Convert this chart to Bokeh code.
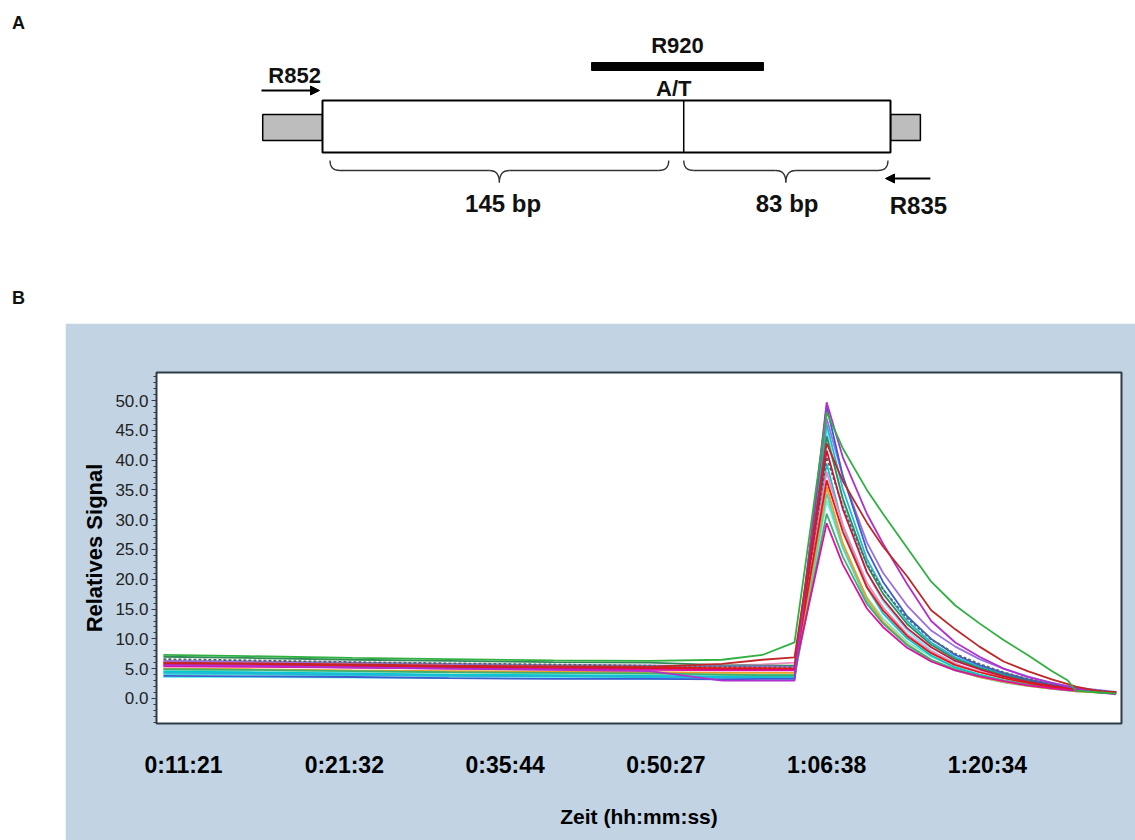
from bokeh.plotting import figure
from bokeh.models import (Range1d, FixedTicker, PrintfTickFormatter, Arrow,
                          NormalHead, Spacer)
from bokeh.layouts import column, row
from bokeh.embed import file_html
from bokeh.resources import INLINE
from bokeh.core.properties import value

FONT = "Liberation Sans"

# ---------------- Panel A: amplicon schematic (positions in bp) ----------------
segment_bp = [145, 83]            # amplicon parts left / right of the SNP
flank_bp = [24, 12]               # grey flanks outside the primers
probe_bp = [108, 177]             # R920 probe span
snp_label = "A/T"
probe_label = "R920"
fwd_primer = "R852"
rev_primer = "R835"
segment_labels = ["145 bp", "83 bp"]

# ---------------- Panel B: melting / signal curves ----------------
tick_pos = [0, 20, 40, 60, 80, 100]
tick_labels = ["0:11:21", "0:21:32", "0:35:44", "0:50:27", "1:06:38", "1:20:34"]
y_ticks = [0, 5, 10, 15, 20, 25, 30, 35, 40, 45, 50]

x_pts = [-2.5, 8, 21, 33, 46, 58, 67, 72, 76,
         80, 82, 85, 87, 90, 93, 96, 99, 102, 105, 108, 110, 111, 114, 116]

s_green = [7.3, 7.1, 6.8, 6.6, 6.4, 6.3, 6.5, 7.3, 9.4, 48.0, 42.0, 35.0, 31.0, 25.3, 19.6, 15.6, 12.6, 9.8, 7.3, 4.6, 3.0, 1.3, 1.0, 0.8]
s_red = [6.0, 5.9, 5.7, 5.5, 5.4, 5.3, 5.8, 6.5, 6.9, 42.8, 36.5, 29.5, 25.5, 20.5, 14.8, 11.6, 8.7, 6.2, 4.6, 3.2, 2.4, 2.0, 1.2, 1.0]
s_violet = [5.6, 5.5, 5.2, 5.0, 4.8, 4.6, 3.0, 3.0, 3.0, 49.7, 40.5, 31.0, 26.0, 19.2, 13.0, 9.4, 7.0, 5.0, 3.6, 2.6, 2.0, 1.7, 1.0, 0.7]
s_blue = [3.8, 3.7, 3.6, 3.4, 3.3, 3.3, 3.2, 3.3, 3.3, 49.0, 37.4, 24.9, 19.6, 13.8, 10.0, 7.3, 5.6, 4.3, 3.2, 2.3, 1.9, 1.7, 1.2, 1.0]
s_lilac = [6.3, 6.2, 6.0, 5.8, 5.6, 5.5, 5.4, 5.4, 5.3, 47.0, 37.3, 26.2, 21.1, 15.6, 11.4, 8.7, 6.6, 5.0, 3.7, 2.6, 2.1, 1.8, 1.4, 1.1]
s_cyan = [4.3, 4.2, 4.0, 3.8, 3.7, 3.6, 3.5, 3.5, 3.5, 46.0, 35.2, 23.4, 18.4, 13.0, 9.4, 6.9, 5.3, 4.1, 3.1, 2.2, 1.8, 1.6, 1.2, 1.0]
s_lightcyan = [3.6, 3.6, 3.5, 3.4, 3.4, 3.3, 3.3, 3.3, 3.3, 45.0, 33.1, 21.1, 16.3, 11.4, 8.1, 5.9, 4.4, 3.4, 2.5, 1.9, 1.5, 1.3, 1.1, 0.9]
s_darkgreen = [7.0, 6.8, 6.5, 6.3, 6.1, 6.0, 5.6, 5.5, 5.5, 44.0, 33.6, 22.4, 17.6, 12.5, 9.0, 6.6, 5.1, 3.9, 3.0, 2.2, 1.8, 1.6, 1.2, 1.0]
s_crimson = [5.7, 5.6, 5.4, 5.2, 5.1, 5.0, 4.9, 4.9, 4.9, 41.6, 31.8, 21.2, 16.7, 11.8, 8.6, 6.3, 4.9, 3.7, 2.8, 2.1, 1.7, 1.5, 1.2, 1.0]
s_grey = [6.6, 6.4, 6.1, 5.9, 5.7, 5.5, 5.3, 5.2, 5.2, 40.5, 32.2, 22.6, 18.3, 13.5, 9.9, 7.5, 5.8, 4.4, 3.3, 2.4, 1.9, 1.7, 1.3, 1.0]
s_turq = [4.5, 4.4, 4.2, 4.0, 3.9, 3.8, 3.7, 3.7, 3.6, 39.4, 29.0, 18.6, 14.3, 10.1, 7.2, 5.2, 4.0, 3.0, 2.3, 1.7, 1.4, 1.3, 1.0, 0.9]
s_pink = [6.2, 6.1, 5.9, 5.7, 5.6, 5.5, 5.5, 5.7, 6.0, 38.0, 29.1, 19.4, 15.3, 10.8, 7.9, 5.8, 4.5, 3.5, 2.7, 2.0, 1.6, 1.5, 1.1, 1.0]
s_red2 = [5.9, 5.8, 5.6, 5.4, 5.3, 5.2, 5.1, 5.1, 5.0, 36.6, 28.0, 18.7, 14.8, 10.5, 7.6, 5.6, 4.4, 3.4, 2.6, 1.9, 1.6, 1.4, 1.1, 1.0]
s_orange = [5.0, 4.9, 4.7, 4.6, 4.5, 4.4, 4.3, 4.3, 4.3, 35.5, 26.1, 16.8, 12.9, 9.1, 6.5, 4.8, 3.6, 2.8, 2.1, 1.6, 1.4, 1.2, 1.0, 0.9]
s_cyan3 = [4.1, 4.0, 3.9, 3.8, 3.7, 3.6, 3.5, 3.4, 3.4, 34.4, 25.3, 16.3, 12.6, 8.9, 6.3, 4.7, 3.6, 2.7, 2.1, 1.6, 1.3, 1.2, 1.0, 0.9]
s_aqua = [4.8, 4.7, 4.5, 4.4, 4.2, 4.1, 4.0, 4.0, 4.0, 33.2, 25.4, 17.0, 13.4, 9.5, 7.0, 5.2, 4.0, 3.1, 2.4, 1.8, 1.5, 1.4, 1.1, 1.0]
s_green2 = [4.9, 4.8, 4.6, 4.4, 4.3, 4.2, 4.0, 3.9, 3.9, 31.0, 23.8, 15.9, 12.6, 9.0, 6.5, 4.9, 3.8, 3.0, 2.3, 1.8, 1.5, 1.3, 1.1, 1.0]
s_magenta = [5.4, 5.3, 5.2, 5.0, 4.9, 4.8, 4.7, 4.7, 4.7, 29.4, 22.5, 15.1, 12.0, 8.5, 6.2, 4.7, 3.7, 2.9, 2.2, 1.7, 1.4, 1.3, 1.1, 0.9]

series = [s_aqua, s_cyan3, s_lightcyan, s_turq, s_cyan, s_orange, s_pink, s_green2,
          s_darkgreen, s_lilac, s_blue, s_grey, s_crimson, s_red2, s_magenta,
          s_violet, s_red, s_green]
colors = ["#7fe8c8", "#40d8d0", "#70f0f0", "#00c8d0", "#20b8d8", "#f0a020", "#f088c0", "#40b070",
          "#2e8b57", "#9a70e0", "#3a5cd0", "#4f6a64", "#d01040", "#e01818", "#e010a0",
          "#b030d0", "#c02828", "#30b040"]
dashes = ["solid"] * 11 + ["3 2"] + ["solid"] * 6

# ================= Figure A =================
px_per_bp = 2.4912
amp_start_px = 322
W = 1135
HA = 323
x0 = (0 - amp_start_px) / px_per_bp
x1 = (W - amp_start_px) / px_per_bp
pa = figure(width=W, height=HA, x_range=Range1d(x0, x1), y_range=Range1d(HA, 0),
            toolbar_location=None, output_backend="svg", min_border=0,
            x_axis_location=None, y_axis_location=None, outline_line_color=None)
pa.grid.visible = False

amp_len = sum(segment_bp)
snp = segment_bp[0]
# grey flanks
pa.quad(left=[-flank_bp[0], amp_len], right=[0, amp_len + flank_bp[1]],
        top=[114, 114], bottom=[140, 140], fill_color="#bdbdbd", line_color="black", line_width=1.5)
# amplicon box
pa.quad(left=[0], right=[amp_len], top=[100], bottom=[152], fill_color="white",
        line_color="black", line_width=2)
pa.segment(x0=[snp], y0=[100], x1=[snp], y1=[152], line_color="black", line_width=1.5)
# probe bar
pa.quad(left=[probe_bp[0]], right=[probe_bp[1]], top=[62], bottom=[70],
        fill_color="black", line_color="black")

# braces under each segment
def brace(a, b, ytop=160, ymid=170, ytip=182, r=4):
    t = (a + b) / 2
    pa.quadratic(x0=[a, t - r, t, b - r], y0=[ytop, ymid, ytip, ymid],
                 x1=[a + r, t, t + r, b], y1=[ymid, ytip, ymid, ytop],
                 cx=[a, t, t, b], cy=[ymid, ymid, ymid, ymid],
                 line_color="#333333", line_width=1.3)
    pa.segment(x0=[a + r, t + r], y0=[ymid, ymid], x1=[t - r, b - r], y1=[ymid, ymid],
               line_color="#333333", line_width=1.3)

brace(3, snp - 6)
brace(snp, amp_len - 1)

# primer arrows
pa.add_layout(Arrow(end=NormalHead(size=9, fill_color="black", line_color="black"),
                    x_start=-24.5, y_start=90, x_end=-1.2, y_end=90, line_width=2))
pa.add_layout(Arrow(end=NormalHead(size=9, fill_color="black", line_color="black"),
                    x_start=244, y_start=178, x_end=226, y_end=178, line_width=2))

txt = dict(text_font=value(FONT), text_font_style="bold", text_align="center",
           text_baseline="middle", text_color="#111111")
pa.text(x=[-11.2, (probe_bp[0] + probe_bp[1]) / 2, snp - 4], y=[75, 45, 88],
        text=[fwd_primer, probe_label, snp_label], text_font_size="22px", **txt)
pa.text(x=[snp / 2, snp + segment_bp[1] / 2, 239.2], y=[203, 203, 205],
        text=[segment_labels[0], segment_labels[1], rev_primer], text_font_size="24px", **txt)
pa.text(x=[-122, -122], y=[22, 297], text=["A", "B"], text_font_size="18px", **txt)

# ================= Figure B =================
pb = figure(width=1070, height=517, x_range=Range1d(-3.36, 116.67), y_range=Range1d(-4.2, 54.7),
            toolbar_location=None, output_backend="svg",
            min_border_left=91, min_border_right=14, min_border_top=49, min_border_bottom=117,
            border_fill_color="#c2d4e4", background_fill_color="white",
            outline_line_color="#2f3b47", outline_line_width=2)
pb.grid.visible = False

for ys, c, d in zip(series, colors, dashes):
    pb.line(x_pts, ys, line_color=c, line_width=1.8, line_dash=d)

xa = pb.xaxis[0]
xa.ticker = FixedTicker(ticks=tick_pos)
xa.major_label_overrides = {p: l for p, l in zip(tick_pos, tick_labels)}
xa.major_tick_out = 0
xa.major_tick_in = 0
xa.minor_tick_out = 0
xa.minor_tick_in = 0
xa.axis_line_color = None
xa.major_label_text_font = FONT
xa.major_label_text_font_style = "bold"
xa.major_label_text_font_size = "23px"
xa.major_label_text_color = "black"
xa.major_label_standoff = 28
xa.axis_label = "Zeit (hh:mm:ss)"
xa.axis_label_text_font = FONT
xa.axis_label_text_font_style = "bold"
xa.axis_label_text_font_size = "21px"
xa.axis_label_text_color = "black"
xa.axis_label_standoff = 24

ya = pb.yaxis[0]
ya.ticker = FixedTicker(ticks=y_ticks, minor_ticks=list(range(-4, 55)))
ya.formatter = PrintfTickFormatter(format="%.1f")
ya.major_tick_out = 5
ya.major_tick_in = 0
ya.minor_tick_out = 3
ya.minor_tick_in = 0
ya.axis_line_color = "#2f3b47"
ya.major_tick_line_color = "#2f3b47"
ya.minor_tick_line_color = "#2f3b47"
ya.major_label_text_font = FONT
ya.major_label_text_font_size = "17px"
ya.major_label_text_color = "#222222"
ya.major_label_standoff = 3
ya.axis_label = "Relatives Signal"
ya.axis_label_text_font = FONT
ya.axis_label_text_font_style = "bold"
ya.axis_label_text_font_size = "22px"
ya.axis_label_text_color = "black"
ya.axis_label_standoff = 5

layout = column(pa, row(Spacer(width=65, height=517), pb))
open("out.html", "w").write(file_html(layout, INLINE))
